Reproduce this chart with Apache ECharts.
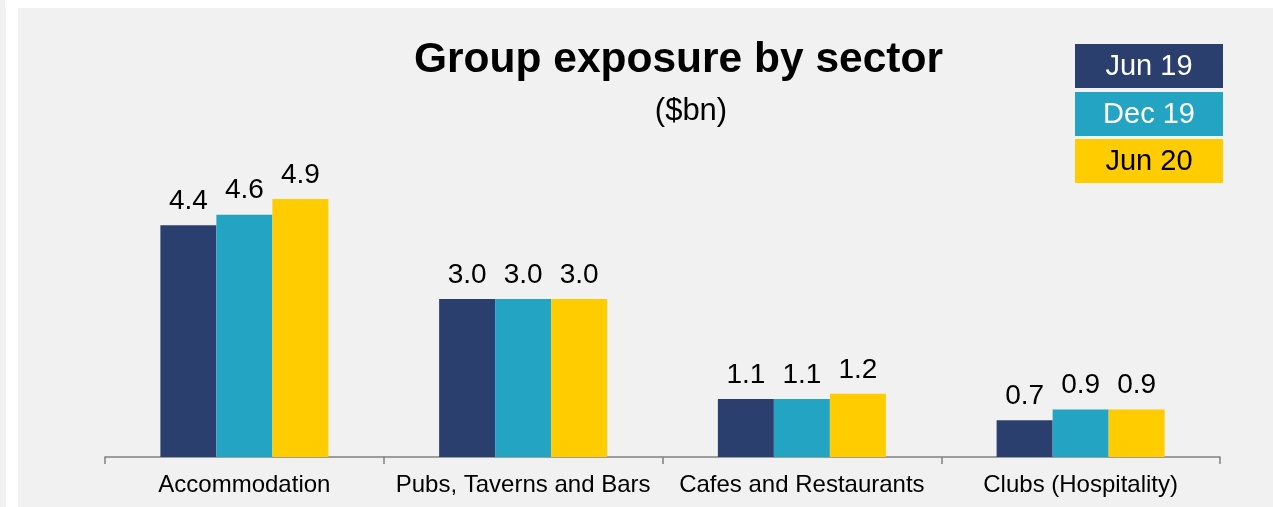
<!DOCTYPE html>
<html>
<head>
<meta charset="utf-8">
<script src="https://cdn.jsdelivr.net/npm/echarts@6/dist/echarts.min.js"></script>
<style>
html,body{margin:0;padding:0;background:#f1f1f1;}
#chart{width:1273px;height:507px;}
</style>
</head>
<body>
<div id="chart"></div>
<script>
var categories = ['Accommodation', 'Pubs, Taverns and Bars', 'Cafes and Restaurants', 'Clubs (Hospitality)'];
var seriesNames = ['Jun 19', 'Dec 19', 'Jun 20'];
var jun19 = [4.4, 3.0, 1.1, 0.7];
var dec19 = [4.6, 3.0, 1.1, 0.9];
var jun20 = [4.9, 3.0, 1.2, 0.9];
var colors = ['#2A3F6D', '#22A4C2', '#FFCC00'];
var legendTextColors = ['#ffffff', '#ffffff', '#000000'];

var chart = echarts.init(document.getElementById('chart'), null, {renderer: 'canvas'});
var font = 'Liberation Sans, Arial, sans-serif';

function mkSeries(name, data, i) {
  return {
    name: name, type: 'bar', data: data, barWidth: 56, barGap: '0%',
    itemStyle: {color: colors[i]},
    label: {show: true, position: 'top', distance: 10, color: '#000', fontSize: 28, fontFamily: font,
      formatter: function (p) { return p.value.toFixed(1); }},
    animation: false
  };
}

var legendGraphics = seriesNames.map(function (n, i) {
  var tops = [44, 92, 139];
  return {
    type: 'group', left: 1075, top: tops[i],
    children: [
      {type: 'rect', shape: {x: 0, y: 0, width: 148, height: 44}, style: {fill: colors[i]}},
      {type: 'text', x: 74, y: 23, style: {text: n, fill: legendTextColors[i], font: '29px ' + font, textAlign: 'center', textVerticalAlign: 'middle'}}
    ]
  };
});

chart.setOption({
  backgroundColor: '#f1f1f1',
  animation: false,
  title: [
    {text: 'Group exposure by sector', left: 678.5, top: 39, textAlign: 'center', padding: 0,
      textStyle: {fontSize: 42.5, fontWeight: 'bold', color: '#000', fontFamily: font}},
    {text: '($bn)', left: 691, top: 96, textAlign: 'center', padding: 0,
      textStyle: {fontSize: 31, fontWeight: 'normal', color: '#000', fontFamily: font}}
  ],
  graphic: [
    {type: 'rect', left: 5, top: 0, shape: {width: 1268, height: 8}, style: {fill: '#ffffff'}, z: -1},
    {type: 'rect', left: 6, top: 0, shape: {width: 12, height: 507}, style: {fill: '#ffffff'}, z: -1}
  ].concat(legendGraphics),
  grid: {left: 105, right: 53, top: 141, bottom: 50, containLabel: false},
  xAxis: {
    type: 'category', data: categories,
    axisLine: {show: true, lineStyle: {color: '#808080', width: 1.5}},
    axisTick: {show: true, length: 7, lineStyle: {color: '#808080', width: 1.5}},
    axisLabel: {color: '#000', fontSize: 24, fontFamily: font, margin: 16, interval: 0}
  },
  yAxis: {type: 'value', min: 0, max: 6, show: false, splitLine: {show: false}},
  series: [mkSeries(seriesNames[0], jun19, 0), mkSeries(seriesNames[1], dec19, 1), mkSeries(seriesNames[2], jun20, 2)]
});
</script>
</body>
</html>
